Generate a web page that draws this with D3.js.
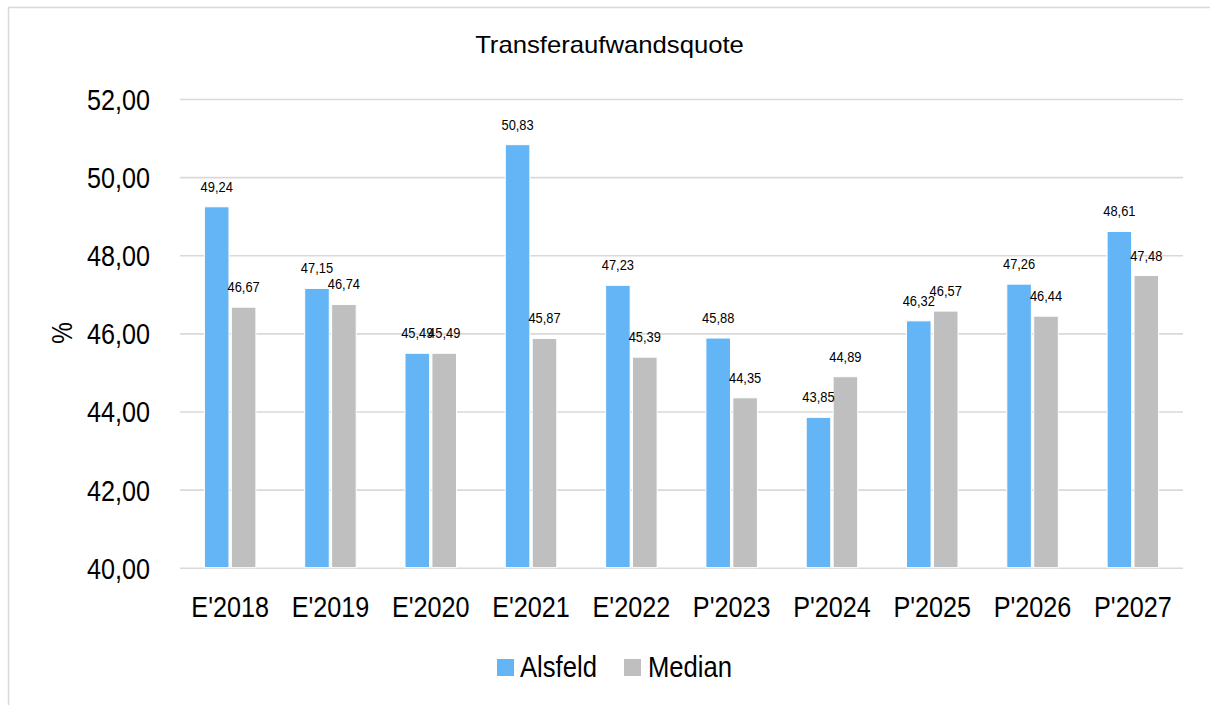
<!DOCTYPE html>
<html>
<head>
<meta charset="utf-8">
<script src="https://cdn.jsdelivr.net/npm/d3@7/dist/d3.min.js"></script>
<style>
  html, body { margin: 0; padding: 0; background: #ffffff; }
  svg { display: block; }
  text { font-family: "Liberation Sans", Arial, sans-serif; fill: #000; }
</style>
</head>
<body>
<svg id="chart" width="1210" height="705"></svg>
<script>
// ---- data ----
const categories = ["E'2018", "E'2019", "E'2020", "E'2021", "E'2022", "P'2023", "P'2024", "P'2025", "P'2026", "P'2027"];
const seriesNames = ["Alsfeld", "Median"];
const alsfeld = [49.24, 47.15, 45.49, 50.83, 47.23, 45.88, 43.85, 46.32, 47.26, 48.61];
const median  = [46.67, 46.74, 45.49, 45.87, 45.39, 44.35, 44.89, 46.57, 46.44, 47.48];
const yTicks = [40, 42, 44, 46, 48, 50, 52];
const title = "Transferaufwandsquote";
const yLabel = "%";

const colors = { "Alsfeld": "#64b5f6", "Median": "#bfbfbf" };
const fmt = v => d3.format(".2f")(v).replace(".", ",");

const svg = d3.select("#chart");

// outer chart border
svg.append("rect")
  .attr("x", 8.5).attr("y", 7.5).attr("width", 1240).attr("height", 760)
  .attr("fill", "none").attr("stroke", "#d9d9d9").attr("stroke-width", 1.5);

const plot = { left: 180, right: 1183, top: 99, bottom: 567.7 };
const width = plot.right - plot.left;
const height = plot.bottom - plot.top;

const x0 = d3.scaleBand().domain(categories).range([0, width]).paddingInner(0).paddingOuter(0);
const barW = 23.5, gap = 4.5;
const x1 = d3.scaleBand().domain(seriesNames).range([-(barW + gap / 2), barW + gap / 2]).paddingInner(gap / (2 * barW + gap)).paddingOuter(0);
const y = d3.scaleLinear().domain([40, 52]).range([height, 0]);

const g = svg.append("g").attr("transform", `translate(${plot.left},${plot.top})`);

// gridlines
const grid = g.append("g").call(d3.axisLeft(y).tickValues(yTicks).tickSize(-width).tickFormat(""));
grid.select(".domain").remove();
grid.selectAll("line").attr("stroke", "#d9d9d9").attr("stroke-width", 1.6);

// y axis labels
const yAxis = g.append("g").call(d3.axisLeft(y).tickValues(yTicks).tickSize(0).tickFormat(fmt));
yAxis.select(".domain").remove();
yAxis.selectAll("text")
  .attr("x", null).attr("dy", null)
  .attr("text-anchor", "end")
  .attr("font-size", 30)
  .attr("font-family", "Liberation Sans, Arial, sans-serif")
  .attr("fill", "#000")
  .attr("transform", "translate(-30,10.5) scale(0.84,1)");

// x axis labels
const xAxis = g.append("g").attr("transform", `translate(0,${height})`)
  .call(d3.axisBottom(x0).tickSize(0));
xAxis.select(".domain").remove();
xAxis.selectAll("text")
  .attr("y", null).attr("dy", null)
  .attr("text-anchor", "middle")
  .attr("font-size", 30)
  .attr("font-family", "Liberation Sans, Arial, sans-serif")
  .attr("fill", "#000")
  .attr("transform", "translate(0,49) scale(0.84,1)");

// bars
const rows = categories.map((c, i) => ({ cat: c, vals: [
  { name: "Alsfeld", v: alsfeld[i] },
  { name: "Median", v: median[i] }
]}));

const groups = g.selectAll(".grp").data(rows).join("g")
  .attr("class", "grp")
  .attr("transform", d => `translate(${x0(d.cat) + x0.bandwidth() / 2},0)`);

groups.selectAll("rect").data(d => d.vals).join("rect")
  .attr("x", d => x1(d.name))
  .attr("width", x1.bandwidth())
  .attr("y", d => y(d.v))
  .attr("height", d => y(40) - y(d.v))
  .attr("fill", d => colors[d.name])
  .attr("stroke", "#ffffff")
  .attr("stroke-width", 1);

// data labels
groups.selectAll("text.lbl").data(d => d.vals).join("text")
  .attr("class", "lbl")
  .attr("text-anchor", "middle")
  .attr("font-size", 15)
  .attr("transform", d => `translate(${x1(d.name) + x1.bandwidth() / 2},${y(d.v) - 15}) scale(0.86,1)`)
  .text(d => fmt(d.v));

// title
svg.append("text")
  .attr("text-anchor", "middle")
  .attr("font-size", 24)
  .attr("transform", "translate(609.5,53.3) scale(1.07,1)")
  .text(title);

// y label
svg.append("text")
  .attr("text-anchor", "middle")
  .attr("font-size", 29)
  .attr("transform", "translate(71.5,333) rotate(-90) scale(0.84,1)")
  .text(yLabel);

// legend
const legendItems = [
  { name: seriesNames[0], sx: 497, tx: 520 },
  { name: seriesNames[1], sx: 624, tx: 648 }
];
const lg = svg.append("g");
lg.selectAll("rect").data(legendItems).join("rect")
  .attr("x", d => d.sx).attr("y", 659).attr("width", 17).attr("height", 17)
  .attr("fill", d => colors[d.name]);
lg.selectAll("text").data(legendItems).join("text")
  .attr("font-size", 30)
  .attr("transform", d => `translate(${d.tx},677) scale(0.855,1)`)
  .text(d => d.name);
</script>
</body>
</html>
